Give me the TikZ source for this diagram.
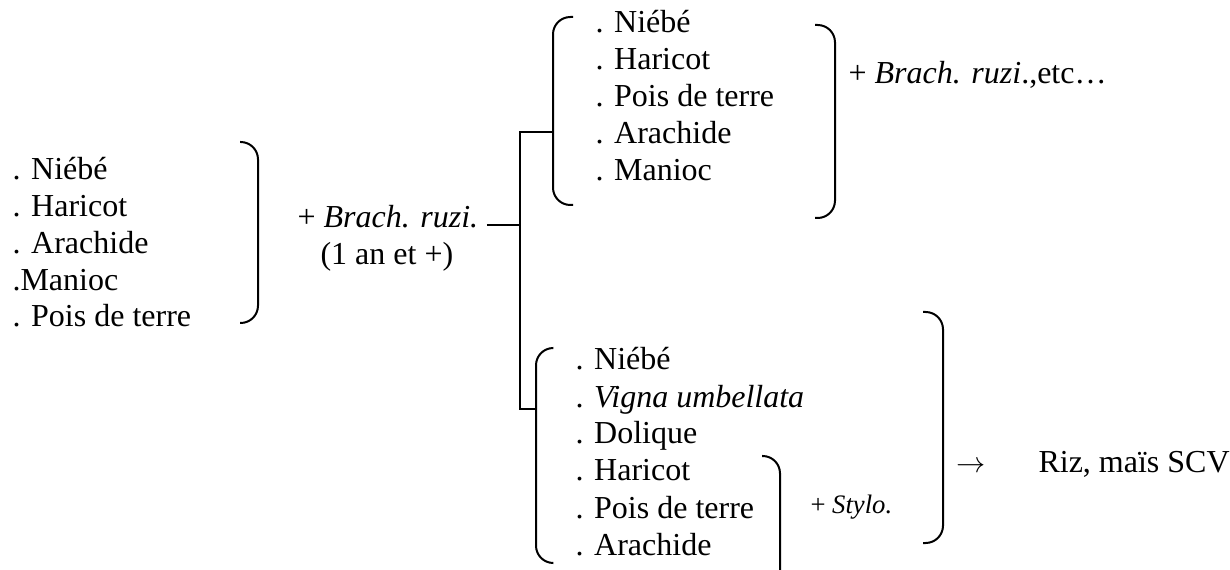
\documentclass[tikz,border=0pt]{standalone}
\usepackage{fontspec}
\setmainfont{Liberation Serif}
\usepackage{tikz}

\begin{document}
\begin{tikzpicture}[
		x=0.375pt, y=-0.375pt,
		item/.style={anchor=base west, inner sep=0pt, font=\fontsize{12}{13.8}\selectfont},
		small/.style={anchor=base west, inner sep=0pt, font=\fontsize{10}{12}\selectfont},
		brk/.style={line width=0.75pt, rounded corners=6.5pt},
		lnk/.style={line width=0.75pt}
	]
		\useasboundingbox (0,0) rectangle (1230,570);
		
		% first year
		\foreach \t [count=\i] in {. Niébé, . Haricot, . Arachide, .Manioc, . Pois de terre}
			\node[item](left-\i) at (12,{180+36.7*(\i-1)}){\t};
		\draw[brk] (240,142) -- (258,142) -- (258,323) -- (240,323);
		\node[item](ruzi) at (297,228){+ \textit{Brach. ruzi.}};
		\node[item](duree) at (320,265){(1 an et +)};
		
		% trunk
		\coordinate (trunk-top) at (520,132);
		\coordinate (trunk-mid) at (520,225);
		\coordinate (trunk-bot) at (520,409);
		\coordinate (top-join) at (553,132);
		\coordinate (bot-join) at (536,409);
		\draw[lnk] ([xshift=3pt]ruzi.base east |- trunk-mid) -- (trunk-mid);
		\draw[lnk] (top-join) -- (trunk-top) -- (trunk-bot) -- (bot-join);
		
		% upper branch
		\draw[brk] (573,17) -- (top-join |- 0,17) -- (top-join |- 0,205) -- (573,205);
		\foreach \t [count=\i] in {. Niébé, . Haricot, . Pois de terre, . Arachide, . Manioc}
			\node[item](top-\i) at (595,{33+37*(\i-1)}){\t};
		\draw[brk] (815,25) -- (835,25) -- (835,218) -- (815,218);
		\node[item](etc) at (848,84){+ \textit{Brach. ruzi}.,etc…};
		
		% lower branch
		\draw[brk] (553,348) -- (bot-join |- 0,348) -- (bot-join |- 0,563) -- (553,563);
		\foreach \t [count=\i] in {. Niébé, . \textit{Vigna umbellata}, . Dolique, . Haricot, . Pois de terre, . Arachide}
			\node[item](bot-\i) at (575,{370+37*(\i-1)}){\t};
		\draw[brk] (762,456) -- (780,456) -- (780,570);
		\node[small](stylo) at (810,514){+ \textit{Stylo.}};
		\draw[brk] (923,312) -- (943,312) -- (943,543) -- (923,543);
		
		% result
		\node[item, anchor=center, font=\fontsize{11}{12}\selectfont](arrow) at (971,467){$\rightarrow$};
		\node[item](riz) at (1038,472){Riz, maïs SCV};
	\end{tikzpicture}
\end{document}
